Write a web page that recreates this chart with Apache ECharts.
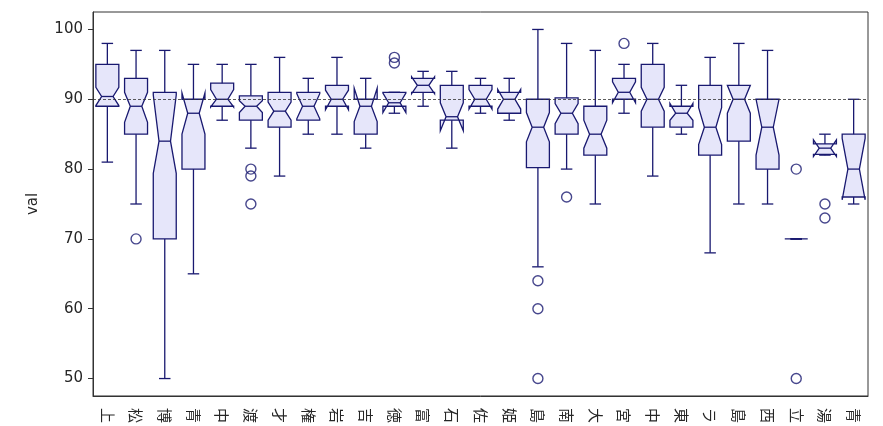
<!DOCTYPE html>
<html>
<head>
<meta charset="utf-8">
<script src="https://cdn.jsdelivr.net/npm/echarts@6/dist/echarts.min.js"></script>
<style>
  html, body { margin: 0; padding: 0; background: #fff; }
  #main { width: 883px; height: 426px; }
</style>
</head>
<body>
<div id="main"></div>
<script>
// categories (labels are cut off at the bottom in the reference, only first glyph visible)
var categories = ['上', '松', '博', '青', '中', '渡', '才', '権', '岩', '吉', '徳', '富', '石', '佐',
                  '姫', '島', '南', '大', '宮', '中', '東', 'ラ', '島', '西', '立', '湯', '青'];

var whiskerLo = [81, 75, 50, 65, 87, 83, 79, 85, 85, 83, 88, 89, 83, 88, 87, 66, 80, 75, 88, 79, 85, 68, 75, 75, 70, 82, 75];
var q1        = [89, 85, 70, 80, 89, 87, 86, 87, 89, 85, 89, 91, 87, 89, 88, 80.2, 85, 82, 90, 86, 86, 82, 84, 80, 70, 82.1, 76];
var median    = [90.4, 89, 84, 88, 90, 89, 88.3, 89, 90, 89, 89.5, 92, 87.5, 90, 90, 86, 88, 85, 91, 90, 88, 86, 90, 86, 70, 83, 80];
var q3        = [95, 93, 91, 90, 92.3, 90.5, 91, 91, 92, 90, 91, 93, 92, 92, 91, 90, 90.2, 89, 93, 95, 89, 92, 92, 90, 70, 83.6, 85];
var whiskerHi = [98, 97, 97, 95, 95, 95, 96, 93, 96, 93, 91, 94, 94, 93, 93, 100, 98, 97, 95, 98, 92, 96, 98, 97, 70, 85, 90];
var notchLo   = [89.1, 86.7, 79.4, 85, 88.9, 88.1, 87, 87.2, 88.5, 86.8, 88.1, 90.8, 85.5, 88.6, 88.6, 83.9, 86.5, 83, 89.5, 88.3, 87, 83.5, 88, 82, 70, 81.8, 75.6];
var notchHi   = [91.7, 91, 90.6, 90.9, 91.4, 89.8, 89.6, 90.8, 91.3, 91.6, 90.9, 93.2, 89.5, 91.4, 91.4, 88.1, 89.4, 87, 92.5, 91.7, 89.4, 88.8, 92, 90, 70, 84.2, 84.4];

// fliers: category index and value
var outlierIdx = [1, 5, 5, 5, 10, 10, 15, 15, 15, 16, 18, 24, 24, 25, 25];
var outlierVal = [70, 80, 79, 75, 96, 95.2, 64, 60, 50, 76, 98, 80, 50, 75, 73];

var yTicks = [50, 60, 70, 80, 90, 100];

var edge = '#191970';
var fill = '#e6e6fa';

var boxData = categories.map(function (c, i) {
    return [i, whiskerLo[i], q1[i], median[i], q3[i], whiskerHi[i], notchLo[i], notchHi[i]];
});
var flierData = outlierIdx.map(function (idx, i) {
    return [idx, outlierVal[i]];
});

function renderBox(params, api) {
    var i = api.value(0);
    var y = function (v) { return api.coord([i, v])[1]; };
    var cx = api.coord([i, api.value(3)])[0];
    var w = api.size([1, 0])[0] * 0.8;
    var l = cx - w / 2, r = cx + w / 2;
    var nl = cx - w / 4, nr = cx + w / 4;
    var wl = y(api.value(1)), b1 = y(api.value(2)), md = y(api.value(3)),
        b3 = y(api.value(4)), wh = y(api.value(5)),
        nlo = y(api.value(6)), nhi = y(api.value(7));
    var st = { stroke: edge, lineWidth: 1.3, fill: null };
    return {
        type: 'group',
        children: [
            {
                type: 'polygon',
                shape: { points: [[l, b1], [r, b1], [r, nlo], [nr, md], [r, nhi], [r, b3],
                                  [l, b3], [l, nhi], [nl, md], [l, nlo]] },
                style: { fill: fill, stroke: edge, lineWidth: 1.3 }
            },
            { type: 'line', shape: { x1: cx, y1: b1, x2: cx, y2: wl }, style: st },
            { type: 'line', shape: { x1: cx, y1: b3, x2: cx, y2: wh }, style: st },
            { type: 'line', shape: { x1: nl, y1: wl, x2: nr, y2: wl }, style: st },
            { type: 'line', shape: { x1: nl, y1: wh, x2: nr, y2: wh }, style: st },
            { type: 'line', shape: { x1: nl, y1: md, x2: nr, y2: md }, style: st }
        ]
    };
}

var myChart = echarts.init(document.getElementById('main'));

var option = {
    backgroundColor: '#fff',
    animation: false,
    grid: {
        left: 93,
        right: 15,
        top: 12,
        bottom: 29,
        show: true,
        borderColor: '#333',
        borderWidth: 1
    },
    xAxis: {
        type: 'category',
        data: categories,
        boundaryGap: true,
        axisLine: { lineStyle: { color: '#333' } },
        axisTick: { alignWithLabel: true, length: 5, lineStyle: { color: '#333' } },
        axisLabel: {
            rotate: -90,
            interval: 0,
            margin: 12,
            fontSize: 15,
            color: '#262626',
            fontFamily: 'Noto Sans CJK JP'
        },
        splitLine: { show: false }
    },
    yAxis: {
        type: 'value',
        min: 47.5,
        max: 102.5,
        name: 'val',
        nameLocation: 'middle',
        nameGap: 52,
        nameTextStyle: { fontSize: 15, color: '#262626', fontFamily: 'DejaVu Sans' },
        axisLine: { show: true, lineStyle: { color: '#333' } },
        axisTick: { show: true, length: 5, customValues: yTicks, lineStyle: { color: '#333' } },
        axisLabel: {
            customValues: yTicks,
            fontSize: 15,
            margin: 10,
            color: '#262626',
            fontFamily: 'DejaVu Sans'
        },
        splitLine: { show: false }
    },
    series: [
        {
            type: 'custom',
            renderItem: renderBox,
            data: boxData,
            encode: { x: 0, y: [1, 2, 3, 4, 5] },
            markLine: {
                silent: true,
                symbol: ['none', 'none'],
                label: { show: false },
                lineStyle: { color: '#333', width: 0.8, type: [3, 2] },
                data: [{ yAxis: 90 }]
            },
            z: 2
        },
        {
            type: 'scatter',
            data: flierData,
            symbol: 'circle',
            symbolSize: 10,
            itemStyle: { color: 'rgba(0,0,0,0)', borderColor: edge, borderWidth: 1.4 },
            z: 3
        }
    ]
};

myChart.setOption(option);
</script>
</body>
</html>
